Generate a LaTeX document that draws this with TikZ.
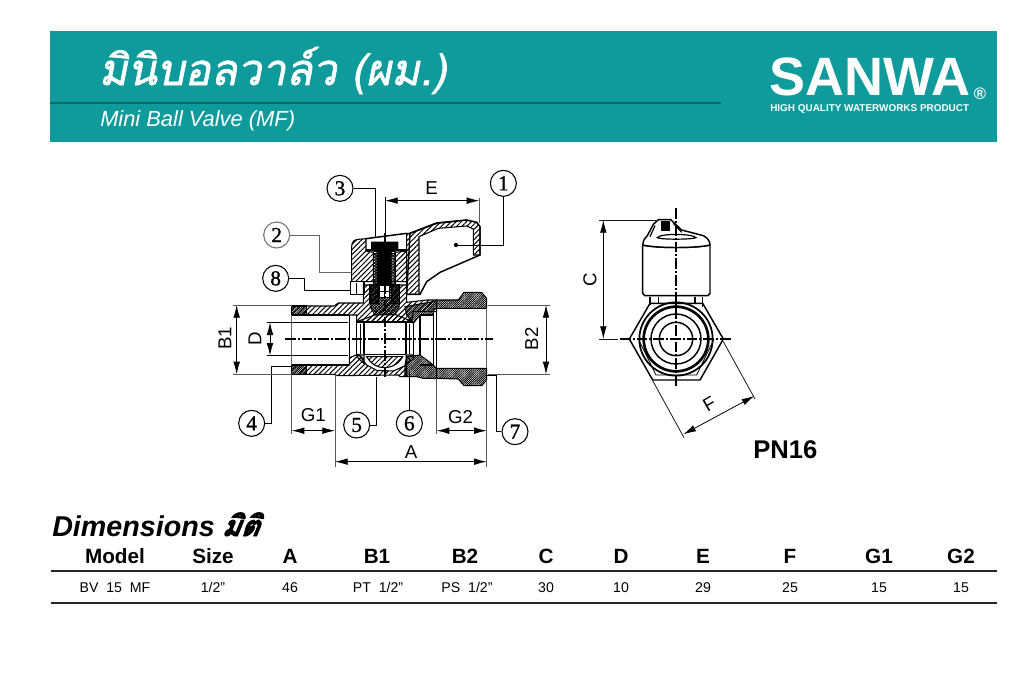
\documentclass[tikz,border=0pt]{standalone}
\usepackage{fontspec}
\setmainfont{Liberation Sans}
\newfontfamily\thaifont[Script=Thai,FakeSlant=0.2,FakeBold=1.5]{Loma}
\newfontfamily\thaibold[Script=Thai,FakeSlant=0.2,FakeBold=2.5]{Loma}
\newfontfamily\numfont[FakeBold=1]{Liberation Serif}
\usetikzlibrary{arrows.meta,patterns.meta}
\definecolor{teal1}{HTML}{0F9A9C}
\definecolor{teal2}{HTML}{0B6A6C}
\tikzset{
 x=.25pt,y=-.25pt,
 hatch/.style={pattern={Lines[angle=45,distance=2.7pt,line width=.75pt]},draw,line width=.8pt},
 hatchb/.style={pattern={Lines[angle=-45,distance=2.7pt,line width=.75pt]},draw,line width=.8pt},
 dense/.style={pattern={Lines[angle=45,distance=1.15pt,line width=.65pt]},draw,line width=.8pt},
 speck/.style={pattern={Hatch[angle=45,distance=1.5pt,line width=.6pt]},draw,line width=.6pt},
 outl/.style={line width=1.1pt,line join=round},
 thin1/.style={line width=.6pt},
 dim/.style={line width=.6pt,{Latex[length=9.5pt,width=5pt]}-{Latex[length=9.5pt,width=5pt]}},
 ext/.style={line width=.45pt,black!65},
 extd/.style={line width=.6pt,black!90},
 axis/.style={line width=.8pt,dash pattern=on 8pt off 1.5pt on 1.5pt off 1.5pt},
 lead/.style={line width=.6pt},
 num/.style={circle,draw,line width=.8pt,minimum size=19.5pt,inner sep=0pt,font=\numfont\fontsize{16}{16}\selectfont},
 dlab/.style={inner sep=0pt,font=\fontsize{14}{14}\selectfont},
 head/.style={anchor=base,inner sep=0pt,font=\bfseries\fontsize{15.5}{16}\selectfont},
 cell/.style={anchor=base,inner sep=0pt,font=\fontsize{10.6}{12}\selectfont},
}
\begin{document}
\begin{tikzpicture}
\useasboundingbox (0,0) rectangle (3072,2049);
\fill[white] (0,0) rectangle (3072,2049);
% banner
\fill[teal1] (150,93) rectangle (2991,426);
\coordinate (ruleL) at (150,309);
\coordinate (ruleR) at (2163,309);
\draw[teal2,line width=.9pt] (ruleL) -- (ruleR);
\node[anchor=base west,inner sep=0pt,text=white,font=\thaifont\fontsize{32.5}{36}\selectfont] (title) at (296,255) {มินิบอลวาล์ว (ผม.)};
\node[anchor=base west,inner sep=0pt,text=white,font=\itshape\fontsize{16.4}{18}\selectfont] (sub) at (300,378) {Mini Ball Valve (MF)};
\node[anchor=base west,inner sep=0pt,text=white,font=\bfseries\fontsize{40.5}{40}\selectfont] (logo) at (2308,287) {SANWA};
\node[anchor=base west,inner sep=0pt,text=white,font=\bfseries\fontsize{7.45}{8}\selectfont] (tag) at (2310,335) {HIGH QUALITY WATERWORKS PRODUCT};
\node[anchor=base west,inner sep=0pt,text=white,font=\bfseries\fontsize{12.5}{13}\selectfont] (reg) at (2921,298) {®};

% ---------- section view ----------
\begin{scope}[shift={(630,495)}]
% white cavity lever
\draw[outl,fill=white] (600,205) -- (680,175) -- (770,165) -- (800,172) -- (810,185) -- (810,270) -- (690,322) -- (650,350) -- (630,388) -- (590,388) -- cycle;
% lever hatched shell
\path[hatch] (598,205) -- (680,173) -- (770,165) -- (800,172) -- (810,185) -- (810,270) -- (790,270) -- (790,192) -- (770,183) -- (685,190) -- (627,215) -- (627,388) -- (590,388) -- (590,205) -- cycle;
% cap left and centre
\path[hatch] (425,245) .. controls (425,230) and (432,224) .. (445,223) -- (468,221) -- (468,258) -- (490,262) -- (490,350) -- (425,350) -- cycle;
\path[hatch] (555,262) -- (590,258) -- (590,350) -- (555,350) -- cycle;
\draw[outl] (468,221) -- (590,205);
\draw[outl] (468,255) -- (590,255);
% skirt
\draw[outl,fill=white] (422,350) rectangle (462,388);
\draw[thin1] (440,355) -- (440,388);
\draw[outl] (425,350) -- (590,350);
% stem neck and lower body
\path[speck] (490,265) -- (555,265) -- (555,360) -- (490,360) -- cycle;
\path[hatch] (460,360) -- (590,360) -- (590,412) -- (650,405) -- (680,405) -- (680,440) -- (610,440) -- (605,470) -- (440,470) -- (440,450) -- (245,450) -- (245,423) -- (372,423) -- (385,414) -- (460,414) -- cycle;
\path[speck] (480,360) -- (568,360) -- (568,425) -- (555,450) -- (495,450) -- (480,425) -- cycle;
\path[dense] (480,360) -- (505,360) -- (505,415) -- (480,415) -- cycle;
\path[dense] (545,360) -- (568,360) -- (568,415) -- (545,415) -- cycle;
% black screw
\fill[black] (483,230) -- (565,230) -- (565,258) -- (545,262) -- (545,362) -- (500,362) -- (500,262) -- (483,258) -- cycle;
\draw[fill=white,line width=.6pt] (507,362) rectangle (538,398);
\draw[line width=.6pt] (522,362) -- (522,398) (507,380) -- (538,380);
% left dense end
\path[dense] (245,423) rectangle (290,450);
% bottom wall
\path[hatch] (245,600) -- (418,600) -- (418,578) -- (445,568) -- (470,600) -- (500,616) -- (550,618) -- (590,600) -- (590,635) -- (570,635) -- (565,630) -- (385,632) -- (370,628) -- (245,628) -- cycle;
\path[dense] (245,600) rectangle (290,628);
% right body, dark
\path[dense] (585,425) -- (680,408) -- (680,430) -- (670,432) -- (670,450) -- (630,450) -- (610,475) -- (590,450) -- cycle;
\path[dense] (590,575) -- (630,570) -- (670,600) -- (680,612) -- (680,640) -- (640,640) -- (620,635) -- (585,635) -- (585,600) -- cycle;
% nut
\path[dense] (680,405) -- (745,405) -- (762,382) -- (815,382) -- (830,400) -- (830,430) -- (680,430) -- cycle;
\path[dense] (680,610) -- (830,610) -- (830,645) -- (815,662) -- (762,662) -- (745,642) -- (680,640) -- cycle;
\draw[outl] (680,430) -- (830,430) (680,610) -- (830,610) (680,430) -- (680,610);
\draw[outl] (830,400) -- (830,430) (830,610) -- (830,645);
\draw[thin1,black!60] (830,430) -- (830,610);
\draw[outl] (670,450) -- (670,600) (630,450) -- (670,450) (630,450) -- (630,570) (630,600) -- (670,600);
\draw[thin1,black!60] (245,450) -- (245,600);
\draw[outl] (245,423) -- (245,450) (245,600) -- (245,628) (245,450) -- (418,450) (245,600) -- (418,600) (418,450) -- (418,600);
\draw[thin1] (440,470) -- (440,570) (610,475) -- (610,570);
% ball
\path[hatch] (440,470) -- (500,448) -- (555,448) -- (608,470) -- (608,472) -- (440,472) -- cycle;
\draw[outl] (462,472) -- (462,568) (588,472) -- (588,568);
\draw[thin1] (452,478) -- (452,568) (598,478) -- (598,568);
\path[hatch] (470,575) -- (578,575) .. controls (565,600) and (540,608) .. (524,608) .. controls (505,608) and (485,600) .. (470,575) -- cycle;
\path[hatchb] (440,570) -- (462,570) -- (462,596) -- (445,580) -- cycle;
\path[hatchb] (588,570) -- (610,570) -- (610,582) -- (590,596) -- cycle;
\draw[outl] (462,472) -- (588,472) (462,568) -- (588,568);
% axes
\draw[axis] (225,522) -- (848,522);
\draw[axis] (525,205) -- (525,640);
\draw[line width=.6pt] (525,95) -- (525,205);

% numbered balloons
\node[num] (n1) at (880,55) {1};
\node[num,draw=black!55] (n2) at (200,210) {2};
\node[num] (n3) at (390,70) {3};
\node[num] (n4) at (125,775) {4};
\node[num] (n5) at (440,780) {5};
\node[num] (n6) at (598,775) {6};
\node[num] (n7) at (915,800) {7};
\node[num] (n8) at (197,340) {8};
\coordinate (t1) at (738,240);
\coordinate (t2) at (422,322);
\coordinate (t3) at (495,215);
\coordinate (t4) at (245,605);
\coordinate (t5) at (500,635);
\coordinate (t6) at (598,622);
\coordinate (t7) at (830,632);
\coordinate (t8) at (422,376);
\draw[lead] (n1) |- (t1);
\fill (t1) circle (1.6pt);
\draw[lead,black!60] (n2) -| (328,322) -- (t2);
\draw[lead] (n3) -| (t3);
\draw[lead] (n4) -| (183,605) -- (t4);
\draw[lead] (n5) -| (t5);
\draw[line width=.9pt] (n6) -- (t6);
\draw[lead] (n7) -| (860,632) -- (t7);
\draw[lead] (n8) -| (283,376) -- (t8);

% dimensions
\foreach \a/\b in {{(808,100)}/{(808,175)},{(375,630)}/{(375,905)},{(830,645)}/{(830,905)},{(245,630)}/{(245,806)},{(680,640)}/{(680,806)},{(70,420)}/{(245,420)},{(70,628)}/{(245,628)},{(835,420)}/{(1020,420)},{(835,628)}/{(1020,628)}}
  \draw[ext] \a -- \b;
\draw[line width=.7pt] (170,472) -- (415,472) (170,572) -- (415,572);
\coordinate (e1) at (525,107); \coordinate (e2) at (808,107);
\coordinate (a1) at (375,890); \coordinate (a2) at (830,890);
\coordinate (g1) at (245,797); \coordinate (g2) at (375,797);
\coordinate (h1) at (680,797); \coordinate (h2) at (830,797);
\coordinate (b1) at (80,420);  \coordinate (b2) at (80,628);
\coordinate (c1) at (1008,420);\coordinate (c2) at (1008,628);
\coordinate (d1) at (180,472); \coordinate (d2) at (180,572);
\draw[dim] (e1) -- (e2);
\draw[dim] (a1) -- (a2);
\draw[dim] (g1) -- (g2);
\draw[dim] (h1) -- (h2);
\draw[dim] (b1) -- (b2);
\draw[dim] (c1) -- (c2);
\draw[dim] (d1) -- (d2);
\node[dlab] (lE) at (665,70) {E};
\node[dlab] (lA) at (603,860) {A};
\node[dlab] (lG1) at (310,750) {G1};
\node[dlab] (lG2) at (752,755) {G2};
\node[dlab,rotate=90] (lB1) at (45,520) {B1};
\node[dlab,rotate=90] (lD) at (135,522) {D};
\node[dlab,rotate=90] (lB2) at (965,522) {B2};
\end{scope}

% ---------- end view ----------
\begin{scope}[shift={(1710,585)}]
\draw[outl,fill=white] (178,432) -- (248,555) -- (390,555) -- (460,432) -- (398,325) -- (240,325) -- cycle;
\draw[thin1] (205,432) -- (258,540) -- (380,540) -- (432,432);
\draw[line width=1.3pt] (318,432) circle (110);
\draw[line width=2pt] (318,432) circle (97);
\draw[line width=1.1pt] (318,432) circle (75);
\draw[line width=1.1pt] (318,432) circle (50);
\draw[outl] (240,305) -- (240,330) (265,305) -- (265,325) (375,305) -- (375,325) (398,305) -- (398,335) (240,325) -- (398,325);
\draw[outl,fill=white] (218,150) -- (218,295) -- (224,302) -- (414,302) -- (420,295) -- (420,150) .. controls (380,160) and (260,160) .. (218,150) -- cycle;
\draw[outl,fill=white] (218,150) .. controls (218,140) and (222,132) .. (232,122) -- (250,88) -- (265,74) -- (302,74) -- (335,105) -- (400,122) .. controls (412,128) and (420,138) .. (420,150) .. controls (380,160) and (260,160) .. (218,150) -- cycle;
\draw[line width=.9pt] (262,128) .. controls (270,115) and (365,115) .. (378,128) .. controls (365,134) and (270,134) .. (262,128) -- cycle;
\draw[line width=.9pt] (255,92) -- (240,125) (310,85) -- (335,112);
\fill[black] (272,78) rectangle (300,108);
\draw[axis] (318,40) -- (318,575);
\draw[axis] (150,432) -- (488,432);
\coordinate (c1) at (100,75); \coordinate (c2) at (100,432);
\coordinate (f1) at (340,718); \coordinate (f2) at (553,603);
\draw[extd] (88,75) -- (265,75) (88,432) -- (145,432);
\draw[extd] (460,440) -- (555,612) (247,555) -- (342,728);
\draw[dim] (c1) -- (c2);
\draw[dim] (f1) -- (f2);
\node[dlab,rotate=90] (lC) at (60,255) {C};
\node[dlab,rotate=30] (lF) at (418,628) {F};
\end{scope}
\node[anchor=base west,inner sep=0pt,font=\bfseries\fontsize{19.2}{20}\selectfont] (pn) at (2259,1374) {PN16};

% ---------- table ----------
\node[anchor=base west,inner sep=0pt,font=\bfseries\itshape\fontsize{21.5}{24}\selectfont] (dimt) at (156,1608) {Dimensions\hspace{-1pt} \thaibold มิติ};
\coordinate (r1L) at (153,1713); \coordinate (r1R) at (2991,1713);
\coordinate (r2L) at (153,1809); \coordinate (r2R) at (2991,1809);
\draw[line width=.8pt,black!85] (r1L) -- (r1R);
\draw[line width=.8pt,black!85] (r2L) -- (r2R);
\foreach \nm/\x/\t in {m/345/Model,s/639/Size,a/870/A,b/1131/B1,bb/1395/B2,c/1638/C,d/1863/D,e/2109/E,f/2370/F,g/2637/G1,gg/2883/G2}
  \node[head] (h\nm) at (\x,1689) {\t};
\foreach \nm/\x/\t in {m/345/{BV\ \ 15\ \ MF},s/639/{1/2”},a/870/46,b/1134/{PT\ \ 1/2”},bb/1401/{PS\ \ 1/2”},c/1638/30,d/1863/10,e/2109/29,f/2370/25,g/2637/15,gg/2883/15}
  \node[cell] (v\nm) at (\x,1776) {\t};
\end{tikzpicture}
\end{document}
